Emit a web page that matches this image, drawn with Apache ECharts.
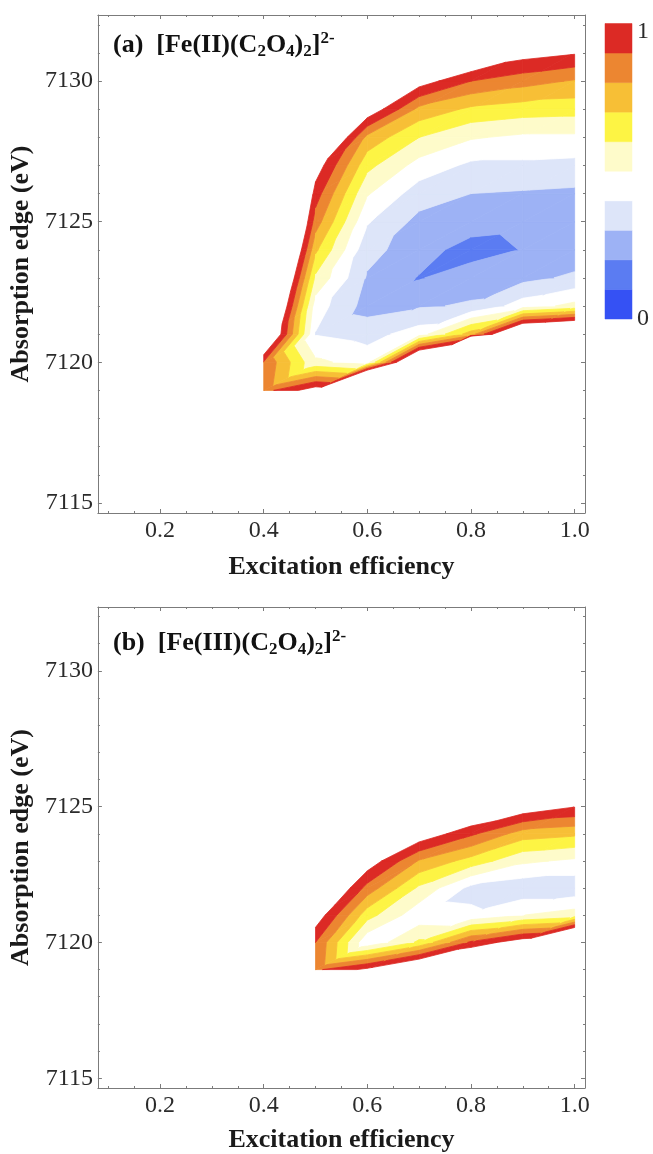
<!DOCTYPE html>
<html>
<head>
<meta charset="utf-8">
<script src="https://cdn.jsdelivr.net/npm/echarts@6/dist/echarts.min.js"></script>
<style>
  html, body { margin: 0; padding: 0; background: #ffffff; }
  #chart { width: 653px; height: 1154px; }
</style>
</head>
<body>
<div id="chart"></div>
<script>
// Contour levels of the normalised misfit and the fill colour of each band
const levels = [0, 0.1, 0.2, 0.3, 0.4, 0.5, 0.6, 0.7, 0.8, 0.9, 1.0];
const bandColors = ['#3551f4', '#5b7cf2', '#9db2f5', '#dde5f9', '#ffffff',
                    '#fefbca', '#fdf444', '#f7bf36', '#ec8631', '#dc2a25'];

// Sampling grid: absorption-edge energies (eV), one row of the tables below each
const edgeEnergies = [7119, 7120, 7121, 7122, 7123, 7124, 7125, 7126, 7127, 7128, 7129, 7130, 7131, 7132];

// (a) [Fe(II)(C2O4)2]2- : excitation efficiencies (columns) and misfit per row
const efficiencyA = [0.4, 0.5, 0.6, 0.7, 0.8, 0.9, 1.0];
const misfitA = [
  [0.86, 1.07, 2.40, 2.50, 5.00, 4.00, 3.50],   // 7119
  [0.89, 0.52, 0.46, 1.42, 4.30, 3.00, 2.50],   // 7120
  [1.30, 0.395, 0.36, 0.45, 0.75, 1.35, 1.45],  // 7121
  [1.45, 0.45, 0.26, 0.29, 0.31, 0.45, 0.53],   // 7122
  [1.60, 0.58, 0.29, 0.193, 0.26, 0.27, 0.32],  // 7123
  [1.75, 0.72, 0.33, 0.25, 0.15, 0.205, 0.23],  // 7124
  [1.85, 0.85, 0.41, 0.27, 0.26, 0.24, 0.24],   // 7125
  [2.00, 0.95, 0.51, 0.35, 0.30, 0.29, 0.28],   // 7126
  [2.20, 1.07, 0.63, 0.46, 0.38, 0.38, 0.37],   // 7127
  [2.50, 1.36, 0.77, 0.60, 0.51, 0.48, 0.48],   // 7128
  [2.80, 1.65, 1.10, 0.77, 0.68, 0.65, 0.64],   // 7129
  [3.10, 1.95, 1.60, 1.06, 0.90, 0.84, 0.79],   // 7130
  [3.40, 2.25, 2.20, 1.50, 1.20, 1.05, 1.01],   // 7131
  [3.70, 2.55, 2.80, 2.00, 1.60, 1.40, 1.30]    // 7132
];

// (b) [Fe(III)(C2O4)2]2-
const efficiencyB = [0.5, 0.6, 0.7, 0.8, 0.9, 1.0];
const misfitB = [
  [0.88, 1.03, 1.24, 1.36, 2.00, 2.50],   // 7119
  [0.90, 0.42, 0.62, 0.92, 1.08, 1.55],   // 7120
  [1.08, 0.64, 0.43, 0.42, 0.50, 0.55],   // 7121
  [1.28, 0.86, 0.58, 0.37, 0.33, 0.33],   // 7122
  [1.50, 1.08, 0.79, 0.66, 0.52, 0.48],   // 7123
  [1.75, 1.40, 1.09, 0.92, 0.75, 0.72],   // 7124
  [2.00, 1.70, 1.50, 1.20, 1.09, 1.005],  // 7125
  [2.30, 2.00, 1.80, 1.50, 1.40, 1.30],   // 7126
  [2.60, 2.30, 2.10, 1.80, 1.70, 1.60],   // 7127
  [2.90, 2.60, 2.40, 2.10, 2.00, 1.90],   // 7128
  [3.20, 2.90, 2.70, 2.40, 2.30, 2.20],   // 7129
  [3.50, 3.20, 3.00, 2.70, 2.60, 2.50],   // 7130
  [3.80, 3.50, 3.30, 3.00, 2.90, 2.80],   // 7131
  [4.10, 3.80, 3.60, 3.30, 3.20, 3.10]    // 7132
];

// Axis ranges and labelled ticks
const xRange = [0.08, 1.02];
const yRange = [7114.64, 7132.35];
const xTickLabels = [0.2, 0.4, 0.6, 0.8, 1.0];
const yTickLabels = [7115, 7120, 7125, 7130];

const FONT = '"Liberation Serif", "Times New Roman", serif';
const frameStyle = { color: '#7b7b7b', width: 1 };

// ---- filled contours: linear interpolation on two triangles per grid cell ----
function clipLevel(poly, level, keepAbove) {
  const out = [];
  for (let k = 0; k < poly.length; k++) {
    const a = poly[k], b = poly[(k + 1) % poly.length];
    const ina = keepAbove ? a.v >= level : a.v <= level;
    const inb = keepAbove ? b.v >= level : b.v <= level;
    if (ina) out.push(a);
    if (ina !== inb) {
      const t = (level - a.v) / (b.v - a.v);
      out.push({ x: a.x + t * (b.x - a.x), y: a.y + t * (b.y - a.y), v: level });
    }
  }
  return out;
}

function bandPolygon(tri, lo, hi) {
  let poly = clipLevel(tri, lo, true);
  if (poly.length < 3) return null;
  poly = clipLevel(poly, hi, false);
  return poly.length >= 3 ? poly : null;
}

function contourRenderer(xs, ys, z) {
  return function (params, api) {
    const i = api.value(2), j = api.value(3);
    const node = (a, b) => ({ x: xs[a], y: ys[b], v: z[b][a] });
    const bl = node(i, j), br = node(i + 1, j), tr = node(i + 1, j + 1), tl = node(i, j + 1);
    const children = [];
    [[bl, br, tr], [bl, tr, tl]].forEach(tri => {
      for (let k = 0; k < levels.length - 1; k++) {
        const poly = bandPolygon(tri, levels[k], levels[k + 1]);
        if (!poly) continue;
        children.push({
          type: 'polygon',
          shape: { points: poly.map(p => api.coord([p.x, p.y])) },
          style: { fill: bandColors[k], stroke: bandColors[k], lineWidth: 0.8, lineJoin: 'round' }
        });
      }
    });
    return { type: 'group', children };
  };
}

function gridCells(xs, ys) {
  const cells = [];
  for (let j = 0; j < ys.length - 1; j++) {
    for (let i = 0; i < xs.length - 1; i++) cells.push([xs[i], ys[j], i, j]);
  }
  return cells;
}

// ---- axes ----
const isLabelled = (list, v) => list.some(t => Math.abs(t - v) < 1e-6);

function xAxisFor(grid, pos, nameGap) {
  const bottom = pos === 'bottom';
  return {
    type: 'value', gridIndex: grid, position: pos,
    min: xRange[0], max: xRange[1], minInterval: 0.2, maxInterval: 0.2,
    name: bottom ? 'Excitation efficiency' : '',
    nameLocation: 'middle', nameGap: nameGap,
    nameTextStyle: { fontFamily: FONT, fontWeight: 'bold', fontSize: 26, color: '#1a1a1a' },
    axisLine: { show: true, onZero: false, lineStyle: frameStyle },
    axisTick: { show: true, inside: true, length: 4, lineStyle: frameStyle },
    minorTick: { show: true, splitNumber: 4, length: 2, lineStyle: frameStyle },
    axisLabel: {
      show: bottom, margin: 6, fontFamily: FONT, fontSize: 24, color: '#2b2b2b',
      formatter: v => isLabelled(xTickLabels, v) ? v.toFixed(1) : ''
    },
    splitLine: { show: false }, minorSplitLine: { show: false }
  };
}

function yAxisFor(grid, pos, nameGap) {
  const left = pos === 'left';
  return {
    type: 'value', gridIndex: grid, position: pos,
    min: yRange[0], max: yRange[1], minInterval: 5, maxInterval: 5, splitNumber: 3,
    name: left ? 'Absorption edge (eV)' : '',
    nameLocation: 'middle', nameGap: nameGap,
    nameTextStyle: { fontFamily: FONT, fontWeight: 'bold', fontSize: 26, color: '#1a1a1a' },
    axisLine: { show: true, onZero: false, lineStyle: frameStyle },
    axisTick: { show: true, inside: true, length: 4, lineStyle: frameStyle },
    minorTick: { show: true, splitNumber: 5, length: 2, lineStyle: frameStyle },
    axisLabel: {
      show: left, margin: 5, fontFamily: FONT, fontSize: 24, color: '#2b2b2b',
      formatter: v => isLabelled(yTickLabels, v) ? String(Math.round(v)) : ''
    },
    splitLine: { show: false }, minorSplitLine: { show: false }
  };
}

// ---- panel captions with sub/superscripts ----
function caption(tag, ox) {
  return '{m|' + tag + '  [Fe(' + ox + ')(C}{s|2}{m|O}{s|4}{m|)}{s|2}{m|]}{p|2-}';
}
const captionRich = {
  m: { fontFamily: FONT, fontWeight: 'bold', fontSize: 26, lineHeight: 30, color: '#111111' },
  s: { fontFamily: FONT, fontWeight: 'bold', fontSize: 17, lineHeight: 17, verticalAlign: 'bottom', color: '#111111' },
  p: { fontFamily: FONT, fontWeight: 'bold', fontSize: 17, lineHeight: 17, verticalAlign: 'top', color: '#111111' }
};

const colorbarBands = levels.slice(0, -1).map((lo, k) => [0, lo, levels[k + 1], k]);

const chart = echarts.init(document.getElementById('chart'), null, { renderer: 'canvas' });
chart.setOption({
  animation: false,
  backgroundColor: '#ffffff',
  title: [
    { text: caption('(a)', 'II'), left: 113, top: 30, padding: 0, textStyle: { rich: captionRich } },
    { text: caption('(b)', 'III'), left: 113, top: 628, padding: 0, textStyle: { rich: captionRich } }
  ],
  grid: [
    { left: 97, top: 15, width: 488, height: 498 },
    { left: 97, top: 607, width: 488, height: 486 },
    { left: 605, top: 23.5, width: 27, height: 295.5 }
  ],
  xAxis: [
    xAxisFor(0, 'bottom', 41),
    xAxisFor(0, 'top', 0),
    xAxisFor(1, 'bottom', 39),
    xAxisFor(1, 'top', 0),
    { type: 'value', gridIndex: 2, min: 0, max: 1, show: false }
  ],
  yAxis: [
    yAxisFor(0, 'left', 57),
    yAxisFor(0, 'right', 0),
    yAxisFor(1, 'left', 57),
    yAxisFor(1, 'right', 0),
    {
      type: 'value', gridIndex: 2, position: 'right', min: 0, max: 1, interval: 1,
      axisLine: { show: false }, axisTick: { show: false }, splitLine: { show: false },
      axisLabel: {
        margin: 5, fontFamily: FONT, fontSize: 24, color: '#2b2b2b',
        formatter: v => v === 1 ? '{hi|1}' : '{lo|0}',
        rich: {
          hi: { fontFamily: FONT, fontSize: 24, color: '#2b2b2b', padding: [17, 0, 0, 0] },
          lo: { fontFamily: FONT, fontSize: 24, color: '#2b2b2b' }
        }
      }
    }
  ],
  series: [
    {
      type: 'custom', name: 'Fe(II)', coordinateSystem: 'cartesian2d', xAxisIndex: 0, yAxisIndex: 0,
      silent: true, encode: { x: 0, y: 1 },
      data: gridCells(efficiencyA, edgeEnergies),
      renderItem: contourRenderer(efficiencyA, edgeEnergies, misfitA)
    },
    {
      type: 'custom', name: 'Fe(III)', coordinateSystem: 'cartesian2d', xAxisIndex: 2, yAxisIndex: 2,
      silent: true, encode: { x: 0, y: 1 },
      data: gridCells(efficiencyB, edgeEnergies),
      renderItem: contourRenderer(efficiencyB, edgeEnergies, misfitB)
    },
    {
      type: 'custom', name: 'scale', coordinateSystem: 'cartesian2d', xAxisIndex: 4, yAxisIndex: 4,
      silent: true, encode: { x: 0, y: 1 },
      data: colorbarBands,
      renderItem: function (params, api) {
        const p0 = api.coord([0, api.value(1)]);
        const p1 = api.coord([1, api.value(2)]);
        const c = bandColors[api.value(3)];
        return {
          type: 'rect',
          shape: { x: p0[0], y: p1[1], width: p1[0] - p0[0], height: p0[1] - p1[1] },
          style: { fill: c, stroke: c, lineWidth: 0.5 }
        };
      }
    }
  ]
});
</script>
</body>
</html>
